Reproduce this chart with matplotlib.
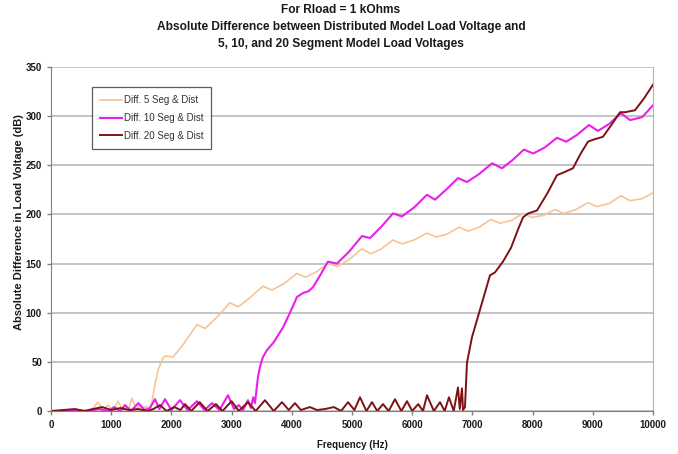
"""
Load-voltage error of the lumped segment models against the distributed
line model, Rload = 1 kOhm.
"""

import matplotlib
matplotlib.use("Agg")
import matplotlib.pyplot as plt

# 5 segment model vs distributed
freq_5seg = [0, 200, 400, 600, 700, 780, 860, 950, 1030, 1113, 1190, 1240,
             1290, 1345, 1420, 1470, 1520, 1580, 1640, 1661, 1720, 1780,
             1860, 1900, 2030, 2200, 2425, 2560, 2750, 2973, 3110, 3300,
             3520, 3670, 3880, 4086, 4230, 4420, 4600, 4760, 4950, 5166,
             5310, 5490, 5681, 5830, 6030, 6246, 6400, 6580, 6777, 6930,
             7110, 7309, 7460, 7650, 7841, 7990, 8180, 8372, 8520, 8720,
             8920, 9070, 9270, 9468, 9620, 9820, 10000]
diff_5seg = [0, 0, 1, 0, 3, 9, 1, 6, 0, 10, 1, 5,
             2, 13, 1, 6, 1, 5, 1, 3, 25, 42,
             54, 56, 55, 68, 88, 84, 95, 110, 106, 115,
             127, 123, 130, 140, 136, 142, 150, 147, 154, 165,
             160, 165, 174, 170, 174, 181, 177, 180, 187, 183,
             187, 195, 191, 194, 201, 197, 199, 205, 201, 205,
             212, 208, 211, 219, 214, 216, 222]

# 10 segment model vs distributed
freq_10seg = [0, 200, 400, 600, 800, 950, 1050, 1150, 1230, 1330, 1450,
              1560, 1640, 1728, 1800, 1894, 2000, 2143, 2270, 2425, 2550,
              2674, 2800, 2940, 3040, 3120, 3190, 3272, 3320, 3360, 3389,
              3420, 3439, 3480, 3522, 3588, 3700, 3854, 3970, 4086, 4186,
              4280, 4352, 4480, 4601, 4750, 4950, 5166, 5299, 5480, 5681,
              5830, 6030, 6246, 6379, 6560, 6761, 6910, 7110, 7326, 7492,
              7660, 7857, 8010, 8200, 8405, 8560, 8740, 8937, 9086, 9270,
              9468, 9620, 9820, 10000]
diff_10seg = [0, 0, 1, 0, 2, 0, 4, 0, 6, 0, 8,
              1, 3, 12, 2, 12, 1, 11, 1, 10, 1,
              8, 1, 16, 2, 6, 1, 11, 3, 14, 8,
              25, 35, 47, 55, 62, 70, 85, 100, 116, 120,
              122, 126, 139, 152, 150, 162, 178, 176, 187, 201,
              198, 207, 220, 215, 225, 237, 233, 241, 252, 247,
              255, 266, 262, 268, 278, 274, 281, 291, 285, 292,
              303, 296, 299, 311]

# 20 segment model vs distributed
freq_20seg = [0, 200, 400, 550, 700, 850, 1000, 1150, 1300, 1450, 1600,
              1700, 1811, 1920, 2050, 2150, 2226, 2330, 2470, 2600, 2740,
              2850, 3000, 3120, 3272, 3400, 3555, 3700, 3837, 3950, 4053,
              4150, 4300, 4420, 4550, 4700, 4820, 4934, 5040, 5133, 5240,
              5332, 5420, 5515, 5610, 5714, 5820, 5914, 6000, 6100, 6180,
              6246, 6360, 6462, 6540, 6611, 6690, 6761, 6790, 6827, 6844,
              6877, 6910, 6993, 7126, 7292, 7375, 7508, 7641, 7760, 7841,
              7924, 8073, 8250, 8405, 8488, 8671, 8800, 8920, 9003, 9169,
              9320, 9452, 9535, 9701, 9850, 10000]
diff_20seg = [0, 1, 2, 0, 2, 4, 1, 3, 1, 2, 0,
              2, 6, 0, 4, 1, 7, 0, 9, 0, 7,
              0, 10, 0, 9, 0, 11, 0, 9, 1, 8,
              1, 4, 1, 2, 4, 0, 9, 1, 14, 0,
              9, 0, 7, 0, 12, 0, 10, 0, 7, 0,
              16, 0, 9, 0, 14, 0, 24, 2, 23, 1,
              4, 49, 75, 103, 138, 141, 152, 166, 185, 197,
              201, 204, 222, 240, 242, 247, 262, 274, 276, 279,
              292, 304, 304, 306, 318, 332]

x_ticks = list(range(0, 10001, 1000))
y_ticks = list(range(0, 351, 50))

TEXT = "#1a1a1a"
FONT = "Liberation Sans"


def plot_diff_curves(output_path="out.png"):
    plt.rcParams["font.family"] = [FONT, "DejaVu Sans"]

    fig = plt.figure(figsize=(6.78, 4.54), dpi=100)
    ax = fig.add_axes([0.0752, 0.0947, 0.8879, 0.7577])

    ax.plot(freq_5seg, diff_5seg, color="#f8c494", linewidth=1.2,
            label="Diff. 5 Seg & Dist")
    ax.plot(freq_10seg, diff_10seg, color="#ea1fea", linewidth=1.5,
            label="Diff. 10 Seg & Dist")
    ax.plot(freq_20seg, diff_20seg, color="#7d1216", linewidth=1.4,
            label="Diff. 20 Seg & Dist")

    ax.set_xlim(0, 10000)
    ax.set_ylim(0, 350)
    ax.set_xticks(x_ticks)
    ax.set_yticks(y_ticks)
    ax.tick_params(labelsize=7, colors="#808080", labelcolor=TEXT,
                   length=3, width=1, direction="out")
    for lbl in ax.get_xticklabels() + ax.get_yticklabels():
        lbl.set_fontweight("bold")

    ax.grid(True, axis="y", color="#c4c4c4", linewidth=1.4)
    ax.set_axisbelow(True)
    ax.spines["left"].set_color("#808080")
    ax.spines["bottom"].set_color("#808080")
    ax.spines["right"].set_color("#b4b4b4")
    ax.spines["top"].set_visible(False)

    ax.set_xlabel("Frequency (Hz)", fontsize=7, fontweight="bold",
                  color=TEXT, labelpad=7)
    ax.set_ylabel("Absolute Difference in Load Voltage (dB)", fontsize=8,
                  fontweight="bold", color=TEXT, labelpad=4)
    ax.yaxis.set_label_coords(-0.045, 0.55)

    fig.text(0.503, 0.992,
             "For Rload = 1 kOhms\n"
             "Absolute Difference between Distributed Model Load Voltage and\n"
             "5, 10, and 20 Segment Model Load Voltages",
             ha="center", va="top", fontsize=8.6, fontweight="bold",
             color=TEXT, linespacing=1.6)

    leg = ax.legend(loc="upper left", bbox_to_anchor=(0.068, 0.942),
                    fontsize=7, frameon=True, fancybox=False,
                    handlelength=2.2, handletextpad=0.2,
                    labelspacing=0.8, borderpad=0.85, borderaxespad=0)
    leg.get_frame().set_edgecolor("#333333")
    leg.get_frame().set_linewidth(0.9)
    for txt in leg.get_texts():
        txt.set_color("#333333")

    fig.savefig(output_path, facecolor="white")
    plt.close(fig)
    return output_path


if __name__ == "__main__":
    plot_diff_curves()
